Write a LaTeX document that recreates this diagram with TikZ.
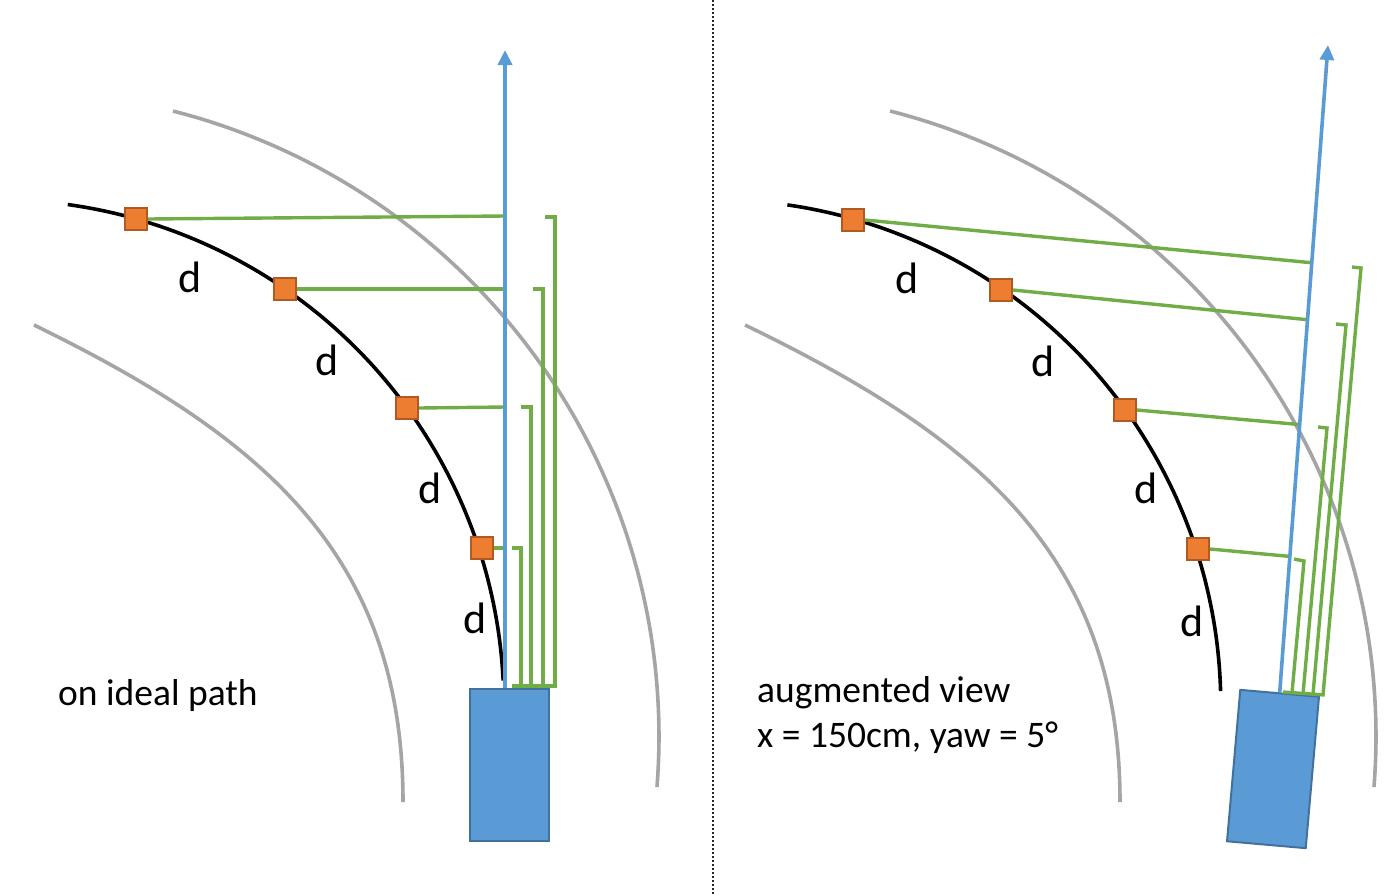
\documentclass[tikz,border=0pt]{standalone}
\usepackage{fontspec}
\setmainfont{Carlito}
\usetikzlibrary{arrows.meta,calc}
\definecolor{cblue}{HTML}{5B9BD5}
\definecolor{cbluedark}{HTML}{41719C}
\definecolor{corange}{HTML}{ED7D31}
\definecolor{corangedark}{HTML}{AE5A21}
\definecolor{cgreen}{HTML}{70AD47}
\definecolor{cgray}{HTML}{A5A5A5}
\begin{document}
\begin{tikzpicture}[x=1pt,y=-1pt,
  road/.style={cgray, line width=3.6pt},
  ideal/.style={black, line width=3.6pt},
  heading/.style={cblue, line width=3.6pt, -{Triangle[width=14pt,length=15pt]}},
  meas/.style={cgreen, line width=3.4pt},
  wp/.style={draw=corangedark, fill=corange, line width=2.2pt, minimum size=22pt, inner sep=0pt},
  car/.style={draw=cbluedark, fill=cblue, line width=2pt, minimum width=79pt, minimum height=152pt, inner sep=0pt},
  dlab/.style={font=\fontsize{44}{50}\selectfont, inner sep=0pt},
  caption/.style={font=\fontsize{37.5}{45}\selectfont, inner sep=0pt, align=left, anchor=base west},
]
\useasboundingbox (0,0) rectangle (1400,895);
\draw[black!85, line width=1.2pt, dash pattern=on 2pt off 2pt] (713,0) -- (713,895);

% ---------------- left panel ----------------
\draw[road] plot[domain=-4.5:75.7, samples=90, variable=\t] ({13.6+645.4*cos(\t)},{736.4-645.4*sin(\t)});
\draw[road] (34,325) .. controls (259,435) and (403,552) .. (403,802);
\draw[ideal] plot[domain=2.8:82.1, samples=90, variable=\t] ({-1.7+505.5*cos(\t)},{705.2-505.5*sin(\t)});

\node[car] (carL) at (509,764.5) {};
\coordinate (baseL) at (505,688);
\coordinate (tipL) at (505,50);
\node[wp] (sL1) at (136,219) {};
\node[wp] (sL2) at (285,289) {};
\node[wp] (sL3) at (407,408) {};
\node[wp] (sL4) at (482,548) {};
\coordinate (fL1) at (505,216);
\coordinate (fL2) at (505,289);
\coordinate (fL3) at (505,407);
\coordinate (fL4) at (505,548);
\draw[meas] (sL1.east) -- (fL1);
\draw[meas] (sL2.east) -- (fL2);
\draw[meas] (sL3.east) -- (fL3);
\draw[meas] (sL4.east) -- (fL4);
\draw[meas] (545,217) -- (555,217) -- (555,686);
\draw[meas] (533,289) -- (543,289) -- (543,686);
\draw[meas] (521,407) -- (531,407) -- (531,686);
\draw[meas] (512,548) -- (521,548) -- (521,686);
\draw[meas] (512,686) -- (556.7,686);
\draw[heading] (baseL) -- (tipL);
\node[wp] at (sL1) {};
\node[wp] at (sL2) {};
\node[wp] at (sL3) {};
\node[wp] at (sL4) {};

\node[dlab] (dL1) at (190,277) {d};
\node[dlab] (dL2) at (327,360) {d};
\node[dlab] (dL3) at (430,488) {d};
\node[dlab] (dL4) at (475,618) {d};
\node[caption] (capL) at (58,705) {on ideal path};

% ---------------- right panel ----------------
\draw[road] plot[domain=-4.5:75.7, samples=90, variable=\t] ({730.6+645.4*cos(\t)},{736.4-645.4*sin(\t)});
\draw[road] (745,325) .. controls (972,435) and (1120,552) .. (1120,802);
\draw[ideal] plot[domain=1.6:81.8, samples=90, variable=\t] ({715.3+505.5*cos(\t)},{705.2-505.5*sin(\t)});

\node[car, rotate=-5] (carR) at (1273,769) {};
\coordinate (tipR) at (1328,45);
\node[wp] (sR1) at (853,220) {};
\node[wp] (sR2) at (1001,290) {};
\node[wp] (sR3) at (1125,410) {};
\node[wp] (sR4) at (1198,549) {};
\coordinate (fR1) at ($(carR.north)!0.6636!(tipR)$);
\coordinate (fR2) at ($(carR.north)!0.5756!(tipR)$);
\coordinate (fR3) at ($(carR.north)!0.4136!(tipR)$);
\coordinate (fR4) at ($(carR.north)!0.2099!(tipR)$);
\draw[meas] (sR1.east) -- (fR1);
\draw[meas] (sR2.east) -- (fR2);
\draw[meas] (sR3.east) -- (fR3);
\draw[meas] (sR4.east) -- (fR4);
\draw[meas] (1352,267) -- (1361,268) -- (1323,695);
\draw[meas] (1336,324) -- (1346,325) -- (1313,694);
\draw[meas] (1318,427) -- (1327,428) -- (1303,694);
\draw[meas] (1294,559) -- (1304,561) -- (1292,693);
\draw[meas] (1283,692) -- (1324.7,695);
\draw[heading] (carR.north) -- (tipR);
\node[wp] at (sR1) {};
\node[wp] at (sR2) {};
\node[wp] at (sR3) {};
\node[wp] at (sR4) {};

\node[dlab] (dR1) at (907,278) {d};
\node[dlab] (dR2) at (1043,361) {d};
\node[dlab] (dR3) at (1146,488) {d};
\node[dlab] (dR4) at (1192,621) {d};
\node[caption] (capR) at (757,747) {augmented view\\x = 150cm, yaw = 5°};
\end{tikzpicture}
\end{document}
